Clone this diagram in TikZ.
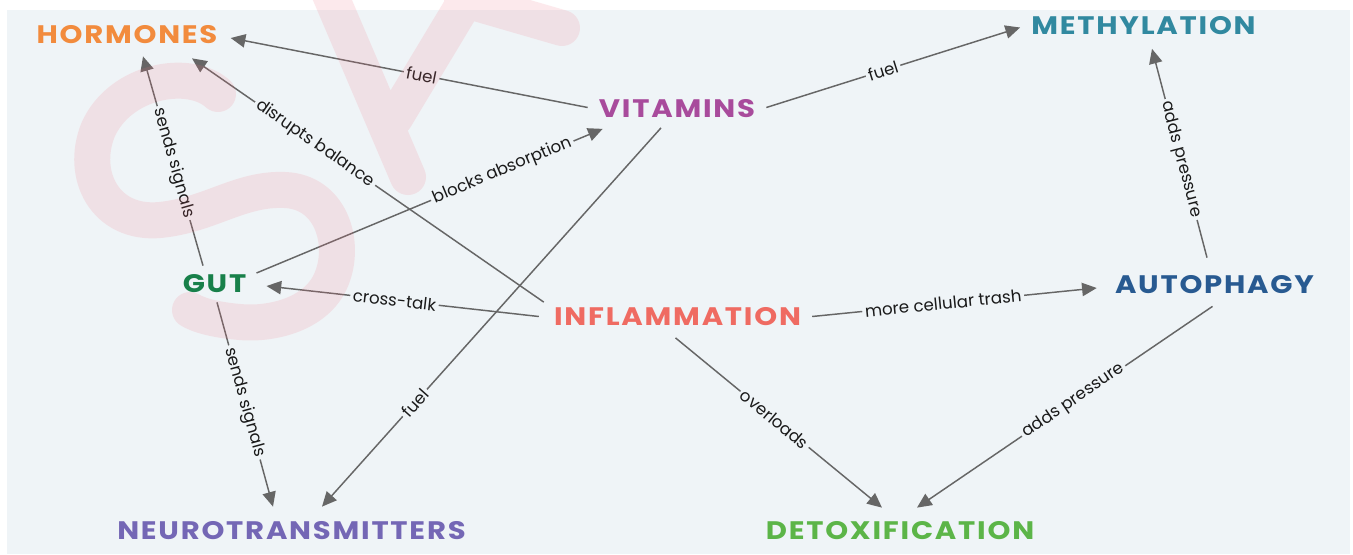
\documentclass[tikz,border=0pt]{standalone}
\usepackage{fontspec}
\setmainfont{Poppins}
\newfontfamily\nodefont{Poppins}[FakeStretch=1.15, LetterSpace=7]
\usetikzlibrary{arrows.meta,calc}
\definecolor{panel}{HTML}{EFF4F7}
\definecolor{wmcol}{HTML}{F07080}
\definecolor{linkgray}{HTML}{666666}
\definecolor{labeltext}{HTML}{1A1A1A}
\definecolor{cHor}{HTML}{F28B3D}
\definecolor{cVit}{HTML}{A84B9C}
\definecolor{cMet}{HTML}{3189A0}
\definecolor{cGut}{HTML}{18804A}
\definecolor{cInf}{HTML}{EF6B62}
\definecolor{cAut}{HTML}{285A91}
\definecolor{cNeu}{HTML}{7467B5}
\definecolor{cDet}{HTML}{5CB548}
\tikzset{
  concept/.style={font=\nodefont\bfseries\fontsize{19}{21}\selectfont, inner xsep=9.75pt, inner ysep=9pt},
  link/.style={draw=linkgray, line width=1.1pt, -{Triangle[length=11pt,width=10pt]}},
  lbl/.style={font=\fontsize{12.5}{14}\selectfont, fill=panel, inner sep=2pt, sloped, text=labeltext},
  wm/.style={draw=wmcol, draw opacity=0.15, line width=27pt, line cap=round}
}
\begin{document}
\begin{tikzpicture}[x=0.75pt,y=-0.75pt]
\useasboundingbox (0,0) rectangle (1353,554);
\fill[white] (0,0) rectangle (1353,554);
\fill[panel] (7,10) rectangle (1350,554);
% concepts
\node[concept, text=cHor] (hor) at (127,35) {HORMONES};
\node[concept, text=cVit] (vit) at (677,108.5) {VITAMINS};
\node[concept, text=cMet] (met) at (1143.5,25.5) {METHYLATION};
\node[concept, text=cGut] (gut) at (214.5,284) {GUT};
\node[concept, text=cInf] (inf) at (677.5,316.5) {INFLAMMATION};
\node[concept, text=cAut] (aut) at (1214.5,285) {AUTOPHAGY};
\node[concept, text=cNeu] (neu) at (291.5,531) {NEUROTRANSMITTERS};
\node[concept, text=cDet] (det) at (900,531) {DETOXIFICATION};
% links
\draw[link] ($(vit.west)+(2,-1)$) -- node[lbl,pos=.465]{fuel} ($(hor.east)+(0,3)$);
\draw[link] ($(vit.east)+(-2,-1)$) -- node[lbl,pos=.46]{fuel} ($(met.west)+(2,2)$);
\draw[link] ($(gut.north)+(-11.5,3)$) -- node[lbl,pos=.49]{sends signals} ($(hor.south)+(16,0)$);
\draw[link] ($(inf.north west)+(3,7)$) -- node[lbl,pos=.65]{disrupts balance} ($(hor.south)+(65,2)$);
\draw[link] ($(gut.east)+(-3,-11)$) -- node[lbl,pos=.71]{blocks absorption} ($(vit.south west)+(17,-1)$);
\draw[link] ($(vit.south)+(-16,-2)$) -- node[lbl,pos=.726]{fuel} ($(neu.north)+(30.5,-3)$);
\draw[link] ($(gut.south)+(2.5,-3)$) -- node[lbl,pos=.49]{sends signals} ($(neu.north)+(-18.5,-3)$);
\draw[link] ($(inf.west)+(-2,0)$) -- node[lbl,pos=.53]{cross-talk} ($(gut.east)+(7,2)$);
\draw[link] ($(inf.east)+(-2,0)$) -- node[lbl,pos=.46]{more cellular trash} ($(aut.west)+(-5,3)$);
\draw[link] ($(inf.south)+(-2,0)$) -- node[lbl,pos=.48]{overloads} ($(det.north)+(-18,-2)$);
\draw[link] ($(aut.south)+(-2,0)$) -- node[lbl,pos=.47]{adds pressure} ($(det.north)+(17,-2)$);
\draw[link] ($(aut.north)+(-7.5,-6)$) -- node[lbl,pos=.47]{adds pressure} ($(met.south)+(8.5,2)$);
% watermark (one path, overlaid)
\draw[wm] (218,94) .. controls (190,68) and (120,80) .. (98,130) .. controls (80,175) and (105,225) .. (160,220) .. controls (210,215) and (240,188) .. (285,190) .. controls (330,192) and (345,240) .. (333,275) .. controls (320,315) and (270,325) .. (240,322) .. controls (215,320) and (198,315) .. (190,310)
  (326,-15) -- (408,177)
  (475,-15) -- (395,118)
  (462,-1) -- (562,28);
\end{tikzpicture}
\end{document}
